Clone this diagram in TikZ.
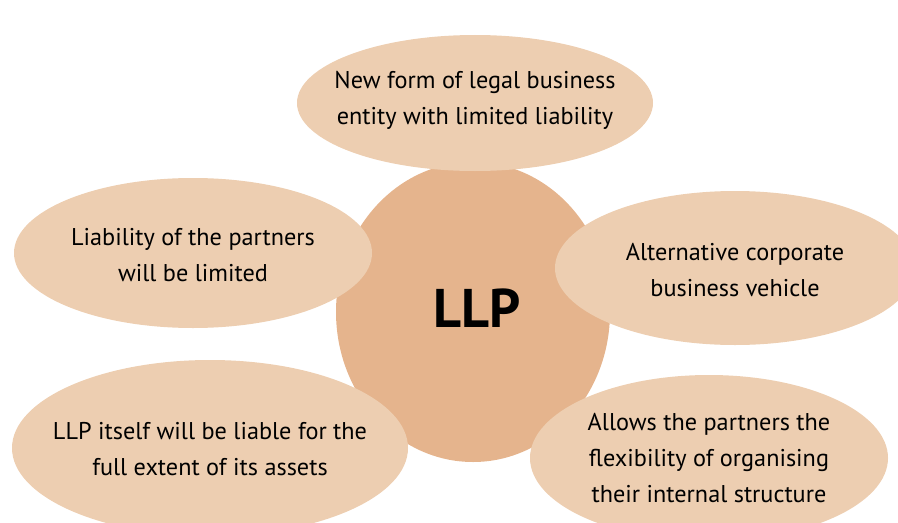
\documentclass[tikz,border=0pt]{standalone}
\usepackage{fontspec}
\setmainfont{PT Sans}
\usetikzlibrary{shapes.geometric}
\definecolor{llpdark}{RGB}{229,180,141}
\definecolor{llplight}{RGB}{237,206,177}
\tikzset{
  hub/.style={ellipse,fill=llpdark,inner sep=0pt},
  bubble/.style={ellipse,fill=llplight,inner sep=0pt},
  bubbletext/.style={align=center,inner sep=0pt,font=\fontsize{13.8}{20.6}\selectfont}
}
\begin{document}
\begin{tikzpicture}
\useasboundingbox (0,0) rectangle (17.96,10.44);

%Centre
\node[hub,minimum width=5.48cm,minimum height=6.0cm
] (hub) at (9.46,4.2){};

%Top
\node[bubble,minimum width=7.12cm,minimum height=2.72cm
] (top) at (9.5,8.38){};
\node[bubbletext] (toptext) at (9.5,8.44){New form of legal business\\entity with limited liability};

%Left
\node[bubble,minimum width=7.16cm,minimum height=3.0cm
] (left) at (3.86,5.38){};
\node[bubbletext] (lefttext) at (3.86,5.34){Liability of the partners\\will be limited};

%Right
\node[bubble,minimum width=7.2cm,minimum height=3.08cm
] (right) at (14.7,5.08){};
\node[bubbletext] (righttext) at (14.7,5.04){Alternative corporate\\business vehicle};

%Bottom Left
\node[bubble,minimum width=7.92cm,minimum height=3.52cm
] (bl) at (4.2,1.48){};
\node[bubbletext] (bltext) at (4.2,1.46){LLP itself will be liable for the\\full extent of its assets};

%Bottom Right
\node[bubble,minimum width=7.16cm,minimum height=3.32cm
] (br) at (14.18,1.28){};
\node[bubbletext] (brtext) at (14.18,1.28){Allows the partners the\\flexibility of organising\\their internal structure};

%Label
\node[font=\fontsize{31}{36}\selectfont\bfseries] (llp) at (9.54,4.28){LLP};

\end{tikzpicture}
\end{document}
